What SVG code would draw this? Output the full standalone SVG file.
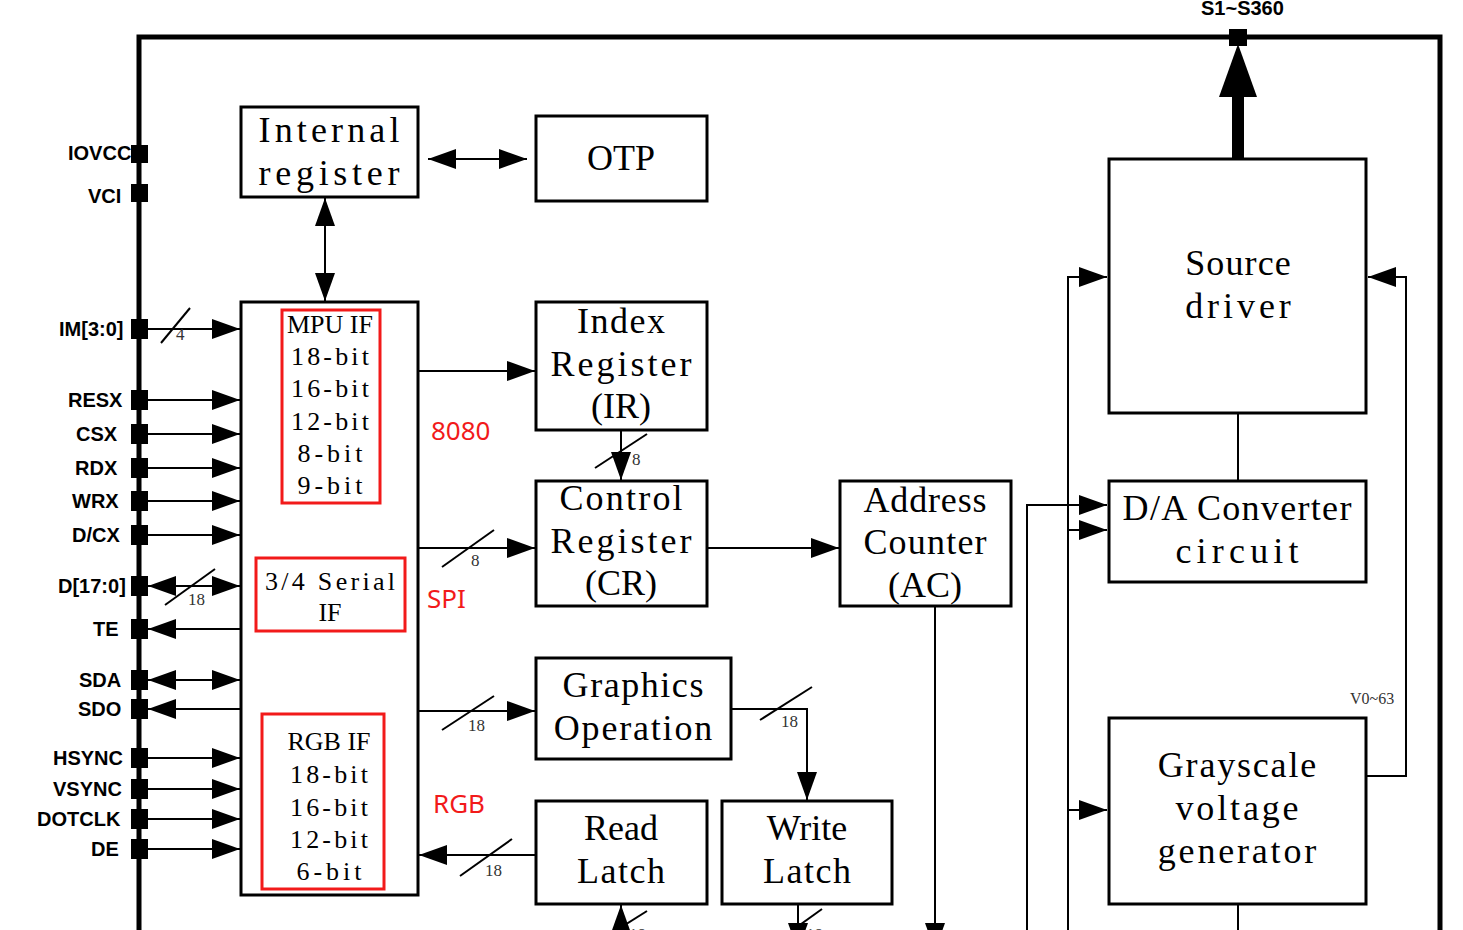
<svg xmlns="http://www.w3.org/2000/svg" width="1463" height="930" viewBox="0 0 1463 930">
<style>
.bx{fill:#fff;stroke:#000;stroke-width:3}
.rb{fill:none;stroke:#f21a1a;stroke-width:3}
.t{font-family:"Liberation Serif",serif;font-size:36px;fill:#000}
.ts{font-family:"Liberation Serif",serif;font-size:26px;fill:#000}
.pl{font-family:"Liberation Sans",Arial,sans-serif;font-size:20px;font-weight:bold;fill:#000}
.red{font-family:"Noto Sans","Open Sans",sans-serif;font-size:26px;fill:#f21a1a}
.n{font-family:"Liberation Serif",serif;font-size:17px;fill:#333}
.c{fill:none;stroke:#000;stroke-width:2}
.ca{fill:none;stroke:#000;stroke-width:2;marker-end:url(#ah)}
.cd{fill:none;stroke:#000;stroke-width:2;marker-end:url(#ah);marker-start:url(#ah)}
.pin{fill:#000}
.m{text-anchor:middle}
</style>
<defs>
<marker id="ah" markerUnits="userSpaceOnUse" markerWidth="28" markerHeight="20" refX="28" refY="10" orient="auto-start-reverse" viewBox="0 0 28 20"><path d="M0,0 L28,10 L0,20 z" fill="#000"/></marker>
</defs>
<rect width="1463" height="930" fill="#fff"/>

<g id="frame">
<path d="M139,935 V37 H1440 V935" fill="none" stroke="#000" stroke-width="5"/>
</g>

<g id="connectors">
<line class="cd" x1="428" y1="159" x2="527" y2="159"/>
<line class="cd" x1="325" y1="198" x2="325" y2="301"/>
<line class="ca" x1="148" y1="329" x2="240" y2="329"/>
<line class="c" x1="161" y1="343" x2="190" y2="308"/>
<line class="ca" x1="148" y1="400" x2="240" y2="400"/>
<line class="ca" x1="148" y1="434" x2="240" y2="434"/>
<line class="ca" x1="148" y1="468" x2="240" y2="468"/>
<line class="ca" x1="148" y1="501" x2="240" y2="501"/>
<line class="ca" x1="148" y1="535" x2="240" y2="535"/>
<line class="cd" x1="148" y1="586" x2="240" y2="586"/>
<line class="c" x1="165" y1="605" x2="215" y2="569"/>
<line class="ca" x1="240" y1="629" x2="148" y2="629"/>
<line class="cd" x1="148" y1="680" x2="240" y2="680"/>
<line class="ca" x1="240" y1="709" x2="148" y2="709"/>
<line class="ca" x1="148" y1="758" x2="240" y2="758"/>
<line class="ca" x1="148" y1="789" x2="240" y2="789"/>
<line class="ca" x1="148" y1="819" x2="240" y2="819"/>
<line class="ca" x1="148" y1="849" x2="240" y2="849"/>
<line class="ca" x1="418" y1="371" x2="535" y2="371"/>
<line class="ca" x1="418" y1="548" x2="535" y2="548"/>
<line class="c" x1="442" y1="567" x2="494" y2="530"/>
<line class="ca" x1="621" y1="430" x2="621" y2="480"/>
<line class="c" x1="595" y1="468" x2="647" y2="434"/>
<line class="ca" x1="707" y1="548" x2="839" y2="548"/>
<line class="ca" x1="418" y1="711" x2="535" y2="711"/>
<line class="c" x1="442" y1="730" x2="494" y2="696"/>
<polyline class="ca" points="731,709 807,709 807,800"/>
<line class="c" x1="760" y1="720" x2="812" y2="687"/>
<line class="ca" x1="536" y1="855" x2="419" y2="855"/>
<line class="c" x1="460" y1="876" x2="512" y2="839"/>
<line class="ca" x1="621" y1="960" x2="621" y2="905"/>
<line class="c" x1="612" y1="933" x2="647" y2="911"/>
<line class="ca" x1="798" y1="904" x2="798" y2="951"/>
<line class="c" x1="790" y1="932" x2="822" y2="909"/>
<line class="ca" x1="935" y1="606" x2="935" y2="951"/>
<polyline class="ca" points="1068,935 1068,277 1107,277"/>
<polyline class="ca" points="1027,935 1027,505 1107,505"/>
<line class="ca" x1="1068" y1="530" x2="1107" y2="530"/>
<line class="ca" x1="1068" y1="810" x2="1107" y2="810"/>
<polyline class="ca" points="1366,776 1406,776 1406,277 1368,277"/>
<line class="c" x1="1238" y1="413" x2="1238" y2="481"/>
<line class="c" x1="1238" y1="904" x2="1238" y2="935"/>
<line x1="1238" y1="159" x2="1238" y2="92" stroke="#000" stroke-width="12" stroke-linecap="round"/>
<polygon points="1238,44 1257,97 1219,97" fill="#000"/>
</g>

<g id="labels">
<text class="n" x="176" y="340">4</text>
<text class="n" x="188" y="605">18</text>
<text class="n" x="471" y="566">8</text>
<text class="n" x="632" y="465">8</text>
<text class="n" x="468" y="731">18</text>
<text class="n" x="781" y="727">18</text>
<text class="n" x="485" y="876">18</text>
<text class="n" x="629" y="940">18</text>
<text class="n" x="806" y="940">18</text>
<text class="n" x="1350" y="704" style="font-size:16px">V0~63</text>
<text class="red" x="431" y="440">8080</text>
<text class="red" x="427" y="608">SPI</text>
<text class="red" x="433" y="813">RGB</text>
</g>

<g id="pins">
<rect class="pin" x="131" y="145" width="17" height="18"/>
<rect class="pin" x="131" y="184" width="17" height="18"/>
<rect class="pin" x="131" y="319" width="17" height="20"/>
<rect class="pin" x="131" y="390" width="17" height="20"/>
<rect class="pin" x="131" y="424" width="17" height="20"/>
<rect class="pin" x="131" y="458" width="17" height="20"/>
<rect class="pin" x="131" y="491" width="17" height="20"/>
<rect class="pin" x="131" y="525" width="17" height="20"/>
<rect class="pin" x="131" y="576" width="17" height="20"/>
<rect class="pin" x="131" y="619" width="17" height="20"/>
<rect class="pin" x="131" y="670" width="17" height="20"/>
<rect class="pin" x="131" y="699" width="17" height="20"/>
<rect class="pin" x="131" y="748" width="17" height="20"/>
<rect class="pin" x="131" y="779" width="17" height="20"/>
<rect class="pin" x="131" y="809" width="17" height="20"/>
<rect class="pin" x="131" y="839" width="17" height="20"/>
<rect class="pin" x="1229" y="29" width="18" height="17"/>
<text class="pl" x="68" y="160">IOVCC</text>
<text class="pl" x="88" y="203">VCI</text>
<text class="pl" x="59" y="336">IM[3:0]</text>
<text class="pl" x="68" y="407">RESX</text>
<text class="pl" x="76" y="441">CSX</text>
<text class="pl" x="75" y="475">RDX</text>
<text class="pl" x="72" y="508">WRX</text>
<text class="pl" x="72" y="542">D/CX</text>
<text class="pl" x="58" y="593">D[17:0]</text>
<text class="pl" x="93" y="636">TE</text>
<text class="pl" x="79" y="687">SDA</text>
<text class="pl" x="78" y="716">SDO</text>
<text class="pl" x="53" y="765">HSYNC</text>
<text class="pl" x="53" y="796">VSYNC</text>
<text class="pl" x="37" y="826">DOTCLK</text>
<text class="pl" x="91" y="856">DE</text>
<text class="pl" x="1201" y="15">S1~S360</text>
</g>

<g id="internal-register">
<rect class="bx" x="241" y="107" width="177" height="90"/>
<text class="t" x="258.6" y="142" textLength="140.8" lengthAdjust="spacing">Internal</text>
<text class="t" x="258.6" y="185" textLength="140.8" lengthAdjust="spacing">register</text>
</g>

<g id="otp">
<rect class="bx" x="536" y="116" width="171" height="85"/>
<text class="t m" x="621" y="170">OTP</text>
</g>

<g id="mpu-block">
<rect class="bx" x="241" y="302" width="177" height="593"/>
<rect class="rb" x="282" y="310" width="98" height="193"/>
<text class="ts m" x="330" y="333">MPU IF</text>
<text class="ts" x="291" y="365" textLength="78" lengthAdjust="spacing">18-bit</text>
<text class="ts" x="291" y="397" textLength="78" lengthAdjust="spacing">16-bit</text>
<text class="ts" x="291" y="430" textLength="78" lengthAdjust="spacing">12-bit</text>
<text class="ts" x="297.5" y="462" textLength="65" lengthAdjust="spacing">8-bit</text>
<text class="ts" x="297.5" y="494" textLength="65" lengthAdjust="spacing">9-bit</text>
<rect class="rb" x="256" y="558" width="149" height="73"/>
<text class="ts" x="265" y="590" textLength="130" lengthAdjust="spacing">3/4 Serial</text>
<text class="ts m" x="330" y="621">IF</text>
<rect class="rb" x="262" y="714" width="122" height="175"/>
<text class="ts m" x="329" y="750">RGB IF</text>
<text class="ts" x="290" y="783" textLength="78" lengthAdjust="spacing">18-bit</text>
<text class="ts" x="290" y="816" textLength="78" lengthAdjust="spacing">16-bit</text>
<text class="ts" x="290" y="848" textLength="78" lengthAdjust="spacing">12-bit</text>
<text class="ts" x="296.5" y="880" textLength="65" lengthAdjust="spacing">6-bit</text>
</g>

<g id="index-register">
<rect class="bx" x="536" y="302" width="171" height="128"/>
<text class="t" x="577" y="333" textLength="88" lengthAdjust="spacing">Index</text>
<text class="t" x="550.6" y="376" textLength="140.8" lengthAdjust="spacing">Register</text>
<text class="t m" x="621" y="418">(IR)</text>
</g>

<g id="control-register">
<rect class="bx" x="536" y="481" width="171" height="125"/>
<text class="t" x="559.4" y="510" textLength="123.2" lengthAdjust="spacing">Control</text>
<text class="t" x="550.6" y="553" textLength="140.8" lengthAdjust="spacing">Register</text>
<text class="t m" x="621" y="595">(CR)</text>
</g>

<g id="address-counter">
<rect class="bx" x="840" y="481" width="171" height="125"/>
<text class="t" x="863.4" y="512" textLength="123.2" lengthAdjust="spacing">Address</text>
<text class="t" x="863.4" y="554" textLength="123.2" lengthAdjust="spacing">Counter</text>
<text class="t m" x="925" y="597">(AC)</text>
</g>

<g id="graphics-operation">
<rect class="bx" x="536" y="658" width="195" height="101"/>
<text class="t" x="562.6" y="697" textLength="140.8" lengthAdjust="spacing">Graphics</text>
<text class="t" x="553.8" y="740" textLength="158.4" lengthAdjust="spacing">Operation</text>
</g>

<g id="read-latch">
<rect class="bx" x="536" y="801" width="171" height="103"/>
<text class="t m" x="621" y="840">Read</text>
<text class="t" x="577" y="883" textLength="88" lengthAdjust="spacing">Latch</text>
</g>

<g id="write-latch">
<rect class="bx" x="722" y="801" width="170" height="103"/>
<text class="t m" x="807" y="840">Write</text>
<text class="t" x="763" y="883" textLength="88" lengthAdjust="spacing">Latch</text>
</g>

<g id="source-driver">
<rect class="bx" x="1109" y="159" width="257" height="254"/>
<text class="t" x="1185.2" y="275" textLength="105.6" lengthAdjust="spacing">Source</text>
<text class="t" x="1185.2" y="318" textLength="105.6" lengthAdjust="spacing">driver</text>
</g>

<g id="da-converter">
<rect class="bx" x="1109" y="481" width="257" height="101"/>
<text class="t" x="1122.6" y="520" textLength="228.8" lengthAdjust="spacing">D/A Converter</text>
<text class="t" x="1175.4" y="563" textLength="123.2" lengthAdjust="spacing">circuit</text>
</g>

<g id="grayscale-generator">
<rect class="bx" x="1109" y="718" width="257" height="186"/>
<text class="t" x="1157.8" y="777" textLength="158.4" lengthAdjust="spacing">Grayscale</text>
<text class="t" x="1175.4" y="820" textLength="123.2" lengthAdjust="spacing">voltage</text>
<text class="t" x="1157.8" y="863" textLength="158.4" lengthAdjust="spacing">generator</text>
</g>
</svg>
